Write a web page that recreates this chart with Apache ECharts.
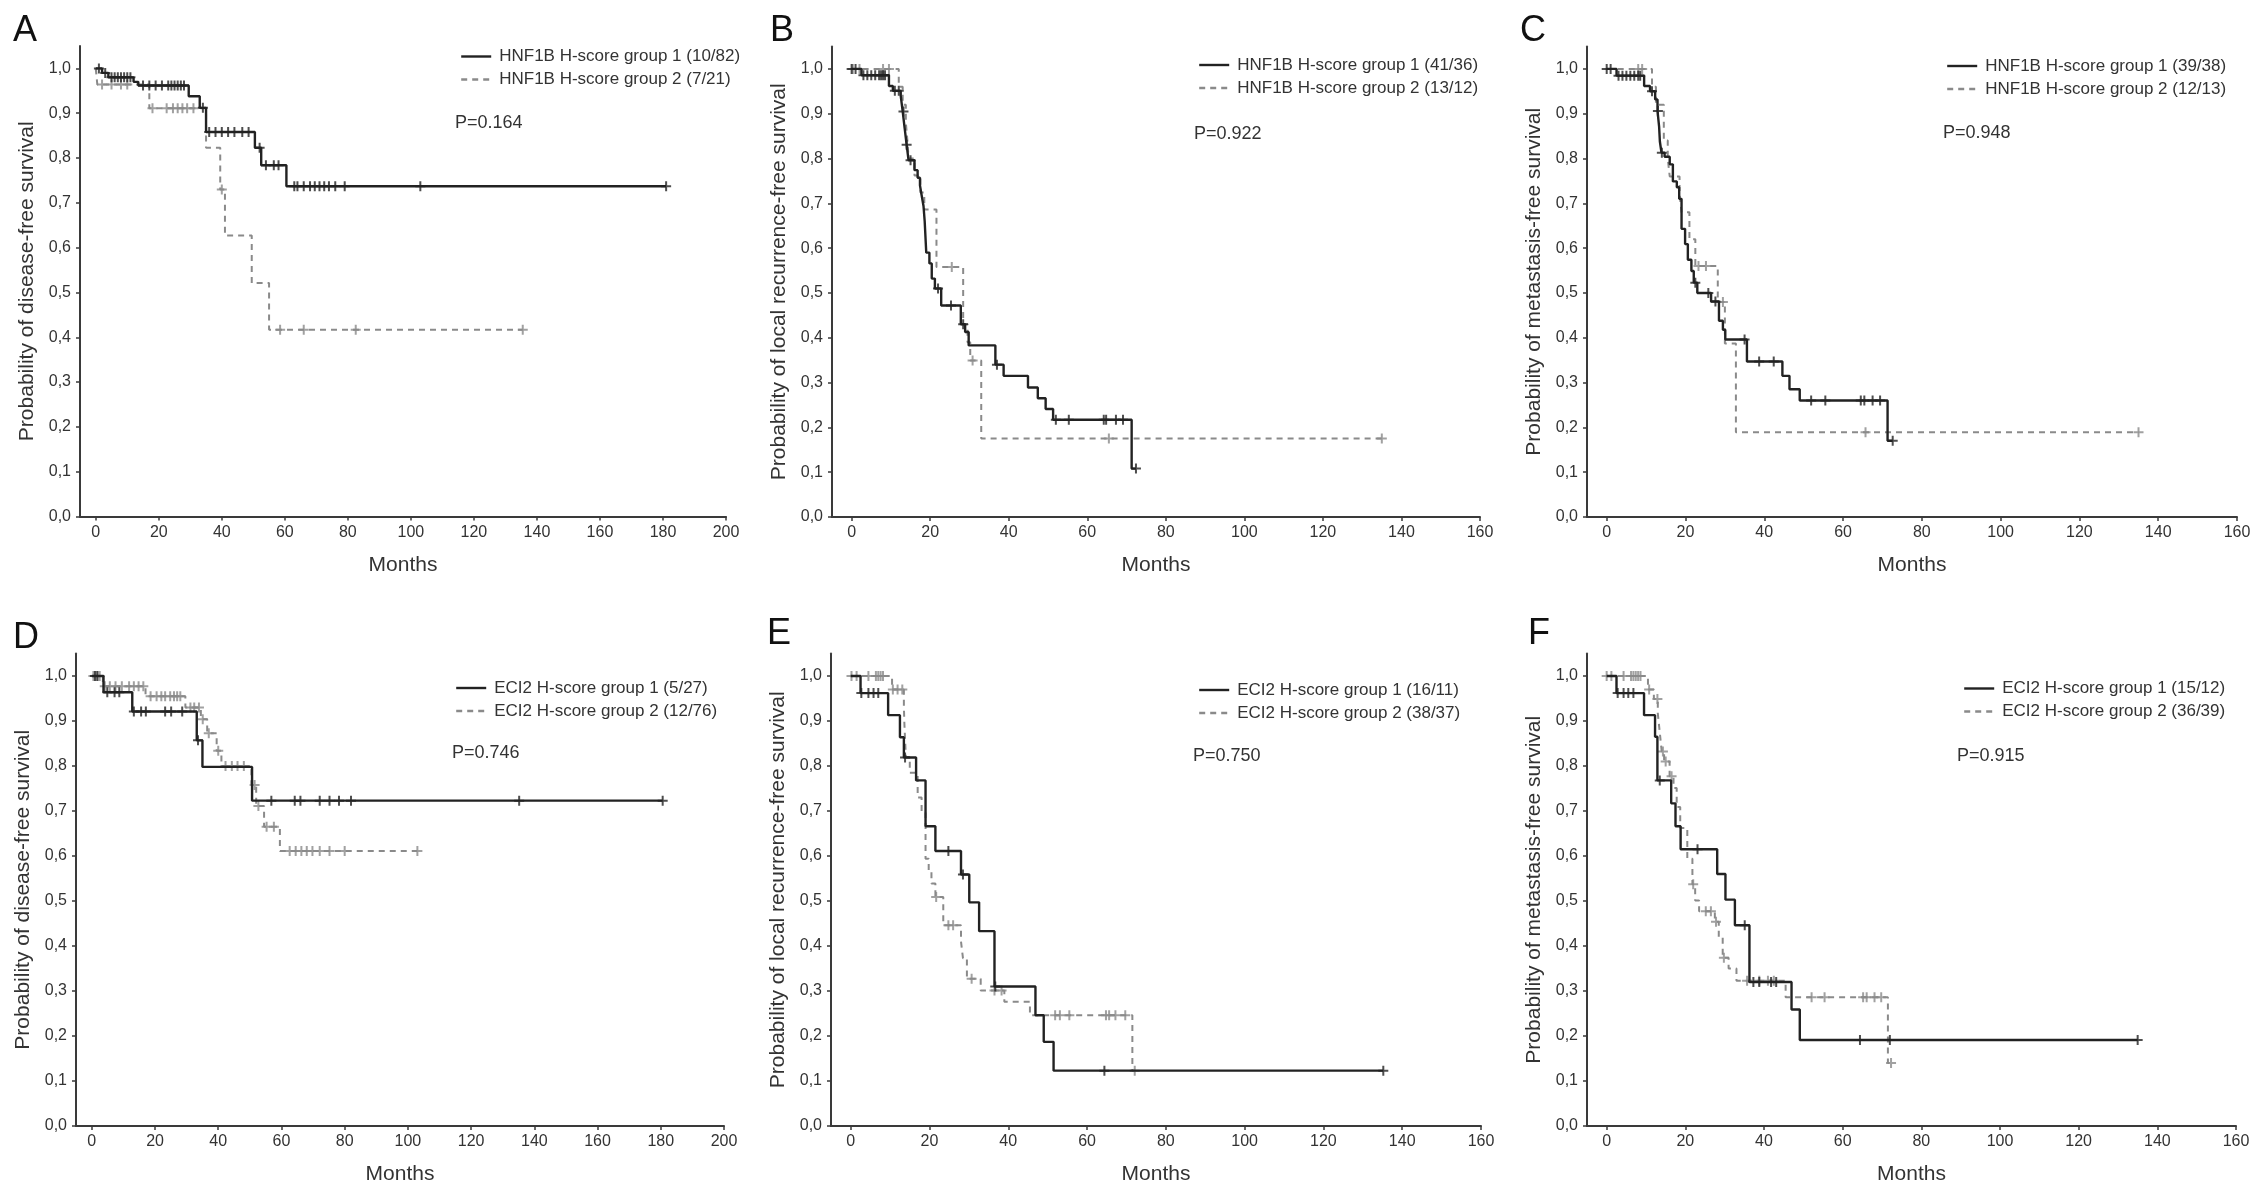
<!DOCTYPE html>
<html>
<head>
<meta charset="utf-8">
<script src="https://cdn.jsdelivr.net/npm/echarts@6.0.0/dist/echarts.min.js"></script>
<style>
html,body{margin:0;padding:0;background:#ffffff;}
#chart{width:2268px;height:1200px;}
</style>
</head>
<body>
<div id="chart"></div>
<script>
// ---------- tick labels ----------
const xTicks200 = [0, 20, 40, 60, 80, 100, 120, 140, 160, 180, 200];
const xTicks160 = [0, 20, 40, 60, 80, 100, 120, 140, 160];
const yTicks = [0, 0.1, 0.2, 0.3, 0.4, 0.5, 0.6, 0.7, 0.8, 0.9, 1.0];
const yTickLabels = ['0,0', '0,1', '0,2', '0,3', '0,4', '0,5', '0,6', '0,7', '0,8', '0,9', '1,0'];

// ---------- Panel A: HNF1B, disease-free survival ----------
const A_g1 = [[0,1],[2,0.99],[4,0.98],[12,0.97],[13.5,0.962],[29.5,0.938],[33,0.912],[35,0.858],[50.5,0.823],[52.5,0.784],[60.5,0.737]];
const A_g1_cens = [1,3,5,6,7,8,9,10,11,15,17,19,21,23,24,25,26,27,28,34,36,38,40,42,44,46.5,48.5,52,54,56.5,58,63,64,66,68,69.5,71,72.5,74,76,79,103,181];
const A_g2 = [[0,1],[0.5,0.964],[17,0.911],[35,0.823],[39.5,0.73],[41,0.627],[49.5,0.521],[55,0.417]];
const A_g2_cens = [2,5,8,10,18,22.5,24.5,26,27.5,29,31,40,58.5,66,82.5,135.5];

// ---------- Panel B: HNF1B, local recurrence-free survival ----------
const B_g1 = [[0,1],[2.5,0.986],[9.5,0.962],[10.5,0.951],[12.5,0.94],[13,0.905],[13.5,0.868],[14,0.831],[14.5,0.796],[16,0.774],[16.8,0.757],[17.4,0.74],[17.8,0.719],[18.3,0.694],[18.6,0.66],[19,0.59],[19.8,0.566],[20.4,0.532],[21.2,0.51],[22.8,0.472],[27.8,0.43],[28.9,0.413],[29.8,0.383],[36.6,0.34],[38.7,0.315],[44.9,0.289],[47.4,0.265],[49.4,0.241],[51.3,0.217],[71.3,0.108]];
const B_g1_cens = [0,1,3,4,5,6,7,7.5,8,8.5,11,12,13.2,14,15,22,25.3,28.4,37,52,55.3,64.2,64.8,67.3,69.1,72.4];
const B_g2 = [[0,1],[12,0.96],[13,0.92],[13.8,0.88],[14.2,0.84],[14.5,0.8],[16,0.762],[17.5,0.724],[18.5,0.686],[21.6,0.558],[28.4,0.43],[29.5,0.39],[30.2,0.349],[33,0.175]];
const B_g2_cens = [0.3,2,8,9.5,25.5,30.8,65.5,135];

// ---------- Panel C: HNF1B, metastasis-free survival ----------
const C_g1 = [[0,1],[2.5,0.985],[9.5,0.962],[11,0.95],[12.3,0.932],[12.9,0.906],[13.3,0.872],[13.5,0.838],[13.9,0.813],[14.7,0.804],[16,0.787],[16.8,0.749],[17.8,0.736],[18.4,0.71],[19,0.643],[19.9,0.609],[20.6,0.574],[21.5,0.549],[22.1,0.523],[23,0.5],[26.5,0.481],[28.5,0.438],[29.5,0.418],[30.1,0.396],[35.6,0.347],[44.6,0.315],[46.4,0.285],[49,0.26],[71.3,0.17]];
const C_g1_cens = [0,1,3,4,5,6,7,8,8.5,11.5,13,14,22.5,25.8,27.6,35,38.7,42.4,51.9,55.5,64.5,65.4,67.5,69.4,72.6];
const C_g2 = [[0,1],[11.5,0.96],[12.5,0.92],[14.5,0.84],[15.5,0.8],[16,0.76],[18.5,0.72],[19,0.68],[21,0.62],[22.5,0.56],[28.2,0.48],[30,0.387],[32.8,0.189]];
const C_g2_cens = [8,9,23.3,25.2,29.5,65.7,135];

// ---------- Panel D: ECI2, disease-free survival ----------
const D_g1 = [[0,1],[3.7,0.964],[12.8,0.921],[33.2,0.857],[35,0.798],[50.7,0.723]];
const D_g1_cens = [1,1.8,4.9,7.2,8.7,13.3,15.6,17.1,23.2,25.1,28.6,33.6,56.8,64.2,66,72.1,75.2,78.2,82,135.2,180.6];
const D_g2 = [[0,1],[3.5,0.977],[17,0.955],[29.6,0.93],[34.5,0.904],[36.5,0.873],[39.5,0.834],[41,0.8],[50.5,0.758],[52,0.711],[54.5,0.665],[59.5,0.611]];
const D_g2_cens = [0.5,1.5,2.5,4.1,5.7,7.5,9.5,11.8,13.3,14.8,16.3,18.6,20.5,22,23.2,24.8,26,27,28,31.2,32.4,33.9,35.1,37,40,42.3,44.3,46.1,48.1,51.5,52.7,55.3,57.6,62.6,64.5,66.3,68,69.8,72.1,75.2,80,103];

// ---------- Panel E: ECI2, local recurrence-free survival ----------
const E_g1 = [[0,1],[2.5,0.962],[9.5,0.913],[12.5,0.864],[13.5,0.819],[16.6,0.768],[19,0.666],[21.5,0.611],[28,0.559],[30.1,0.497],[32.6,0.433],[36.5,0.31],[46.9,0.246],[49,0.187],[51.5,0.123]];
const E_g1_cens = [2.7,4.5,5.8,7,13.8,24.8,28.5,36.7,64.4,135.2];
const E_g2 = [[0,1],[10.5,0.97],[13.5,0.934],[13.6,0.9],[13.8,0.86],[14,0.82],[15,0.785],[17,0.73],[18,0.696],[19,0.594],[19.8,0.569],[20.5,0.539],[21.5,0.509],[23.5,0.446],[28,0.41],[28.5,0.373],[29.5,0.327],[33,0.301],[39,0.276],[45.5,0.246],[71.5,0.123]];
const E_g2_cens = [0.2,1.5,4.5,6.4,7,7.6,8.2,10.7,11.9,13.1,21.7,24.8,26,30.7,36.5,38.3,51.9,53.1,55.5,64.8,65.6,67.2,69.7,72.1];

// ---------- Panel F: ECI2, metastasis-free survival ----------
const F_g1 = [[0,1],[2.5,0.962],[9.5,0.913],[12.3,0.865],[12.9,0.768],[16.4,0.717],[17.5,0.666],[18.8,0.615],[28.1,0.56],[30.2,0.503],[32.6,0.446],[36.3,0.32],[47,0.259],[49.1,0.191]];
const F_g1_cens = [2.8,4.3,5.5,6.8,13.5,23.1,35.1,37.3,38.8,41.8,43.1,64.4,72,135];
const F_g2 = [[0,1],[10.5,0.97],[12,0.949],[13,0.917],[13.5,0.875],[14,0.832],[14.6,0.81],[16,0.777],[17,0.751],[17.8,0.709],[18.7,0.662],[20.5,0.594],[21.8,0.537],[22.5,0.501],[23.5,0.477],[27.5,0.454],[28.5,0.42],[29.5,0.374],[31,0.35],[33,0.323],[45.5,0.286],[71.5,0.14]];
const F_g2_cens = [0,1.2,4.3,6.2,6.8,7.4,8,8.6,10.8,12.9,14.3,15,16.5,22,25.2,26.5,27.8,29.8,35.7,38.8,41,42.5,52.1,55.4,65.2,66.1,68.1,69.8,72.3];

// ---------- texts ----------
const panelLetters = ['A', 'B', 'C', 'D', 'E', 'F'];
const pValues = ['P=0.164', 'P=0.922', 'P=0.948', 'P=0.746', 'P=0.750', 'P=0.915'];
const yNames = ['Probability of disease-free survival', 'Probability of local recurrence-free survival', 'Probability of metastasis-free survival',
                'Probability of disease-free survival', 'Probability of local recurrence-free survival', 'Probability of metastasis-free survival'];
const g1Names = ['HNF1B H-score group 1 (10/82)', 'HNF1B H-score group 1 (41/36)', 'HNF1B H-score group 1 (39/38)',
                 'ECI2 H-score group 1 (5/27)', 'ECI2 H-score group 1 (16/11)', 'ECI2 H-score group 1 (15/12)'];
const g2Names = ['HNF1B H-score group 2 (7/21)', 'HNF1B H-score group 2 (13/12)', 'HNF1B H-score group 2 (12/13)',
                 'ECI2 H-score group 2 (12/76)', 'ECI2 H-score group 2 (38/37)', 'ECI2 H-score group 2 (36/39)'];

// ---------- layout (positions only) ----------
const panels = [
  {g1: A_g1, g1c: A_g1_cens, g2: A_g2, g2c: A_g2_cens, xMax: 200, xTicks: xTicks200,
   grid: {left: 80, top: 46, width: 646, height: 470.5}, legend: {left: 460, top: 48}, p: {left: 455, top: 114}, letter: {left: 13, top: 13}},
  {g1: B_g1, g1c: B_g1_cens, g2: B_g2, g2c: B_g2_cens, xMax: 160, xTicks: xTicks160,
   grid: {left: 832, top: 46.5, width: 648, height: 470.5}, legend: {left: 1198, top: 56.5}, p: {left: 1194, top: 125}, letter: {left: 770, top: 13}},
  {g1: C_g1, g1c: C_g1_cens, g2: C_g2, g2c: C_g2_cens, xMax: 160, xTicks: xTicks160,
   grid: {left: 1587, top: 46.5, width: 650, height: 470.5}, legend: {left: 1946, top: 57.5}, p: {left: 1943, top: 124}, letter: {left: 1520, top: 13}},
  {g1: D_g1, g1c: D_g1_cens, g2: D_g2, g2c: D_g2_cens, xMax: 200, xTicks: xTicks200,
   grid: {left: 76, top: 653.5, width: 648, height: 472.5}, legend: {left: 455, top: 679.5}, p: {left: 452, top: 744}, letter: {left: 13, top: 620}},
  {g1: E_g1, g1c: E_g1_cens, g2: E_g2, g2c: E_g2_cens, xMax: 160, xTicks: xTicks160,
   grid: {left: 831, top: 653.5, width: 650, height: 472.5}, legend: {left: 1198, top: 681.5}, p: {left: 1193, top: 747}, letter: {left: 767, top: 616}},
  {g1: F_g1, g1c: F_g1_cens, g2: F_g2, g2c: F_g2_cens, xMax: 160, xTicks: xTicks160,
   grid: {left: 1587, top: 653.5, width: 649, height: 472.5}, legend: {left: 1963, top: 680}, p: {left: 1957, top: 747}, letter: {left: 1528, top: 616}}
];

const FONT = '"Liberation Sans", Arial, sans-serif';
const AXIS_COLOR = '#3a3a3a';
const TEXT_COLOR = '#333333';
const SOLID_COLOR = '#222222';
const DASH_COLOR = '#8a8a8a';
const PLUS = 'path://M4,0 L6,0 L6,4 L10,4 L10,6 L6,6 L6,10 L4,10 L4,6 L0,6 L0,4 L4,4 Z';

function levelAt(steps, t) {
  let s = steps[0][1];
  for (const p of steps) { if (p[0] <= t) s = p[1]; }
  return s;
}
function lineData(steps, cens) {
  const pts = steps.map(p => [p[0], p[1]]);
  const lastT = Math.max(steps[steps.length - 1][0], cens.length ? cens[cens.length - 1] : 0);
  pts.push([lastT, steps[steps.length - 1][1]]);
  return pts;
}
function censData(steps, cens) {
  return cens.map(t => [t, levelAt(steps, t)]);
}

const option = {
  animation: false,
  backgroundColor: '#ffffff',
  textStyle: {fontFamily: FONT},
  grid: [], xAxis: [], yAxis: [], series: [], legend: [], title: []
};

panels.forEach((pn, i) => {
  option.grid.push(Object.assign({containLabel: false}, pn.grid));
  option.xAxis.push({
    type: 'value', gridIndex: i, min: -5, max: pn.xMax,
    name: 'Months', nameLocation: 'middle', nameGap: 38,
    nameTextStyle: {fontSize: 21, color: TEXT_COLOR, fontFamily: FONT},
    axisLine: {show: true, onZero: false, lineStyle: {color: AXIS_COLOR, width: 2}},
    axisTick: {show: true, customValues: pn.xTicks, length: 4, lineStyle: {color: AXIS_COLOR, width: 1.5}},
    axisLabel: {show: true, customValues: pn.xTicks, fontSize: 16, color: TEXT_COLOR, margin: 8, fontFamily: FONT},
    splitLine: {show: false}
  });
  option.yAxis.push({
    type: 'value', gridIndex: i, min: 0, max: 1.05,
    name: yNames[i], nameLocation: 'middle', nameGap: 42, nameRotate: 90,
    nameTextStyle: {fontSize: 21, color: TEXT_COLOR, fontFamily: FONT},
    axisLine: {show: true, onZero: false, lineStyle: {color: AXIS_COLOR, width: 2}},
    axisTick: {show: true, customValues: yTicks, length: 4, lineStyle: {color: AXIS_COLOR, width: 1.5}},
    axisLabel: {show: true, customValues: yTicks, fontSize: 16, color: TEXT_COLOR, margin: 9, fontFamily: FONT,
      formatter: v => yTickLabels[Math.round(v * 10)]},
    splitLine: {show: false}
  });
  // group 2 (dashed, gray)
  option.series.push({
    type: 'line', name: g2Names[i], xAxisIndex: i, yAxisIndex: i, step: 'end', symbol: 'none',
    data: lineData(pn.g2, pn.g2c), z: 2,
    lineStyle: {color: DASH_COLOR, width: 2, type: [6, 5]}, itemStyle: {color: DASH_COLOR}
  });
  option.series.push({
    type: 'scatter', name: g2Names[i] + ' censored', xAxisIndex: i, yAxisIndex: i, symbol: PLUS, symbolSize: 10,
    data: censData(pn.g2, pn.g2c), z: 3, itemStyle: {color: DASH_COLOR}, silent: true
  });
  // group 1 (solid, dark)
  option.series.push({
    type: 'line', name: g1Names[i], xAxisIndex: i, yAxisIndex: i, step: 'end', symbol: 'none',
    data: lineData(pn.g1, pn.g1c), z: 4,
    lineStyle: {color: SOLID_COLOR, width: 2.4, type: 'solid'}, itemStyle: {color: SOLID_COLOR}
  });
  option.series.push({
    type: 'scatter', name: g1Names[i] + ' censored', xAxisIndex: i, yAxisIndex: i, symbol: PLUS, symbolSize: 10,
    data: censData(pn.g1, pn.g1c), z: 5, itemStyle: {color: SOLID_COLOR}, silent: true
  });
  option.legend.push({
    left: pn.legend.left, top: pn.legend.top, orient: 'vertical', padding: 0,
    itemWidth: 30, itemHeight: 14, itemGap: 6, selectedMode: false,
    itemStyle: {opacity: 0, borderWidth: 0},
    lineStyle: {width: 2.4},
    textStyle: {fontSize: 17, color: TEXT_COLOR, fontFamily: FONT, padding: [0, 0, 0, 3]},
    data: [g1Names[i], g2Names[i]]
  });
  option.title.push({
    text: panelLetters[i], left: pn.letter.left, top: pn.letter.top, padding: 0,
    textStyle: {fontSize: 36, fontWeight: 'normal', color: '#111111', fontFamily: FONT}
  });
  option.title.push({
    text: pValues[i], left: pn.p.left, top: pn.p.top, padding: 0,
    textStyle: {fontSize: 18, fontWeight: 'normal', color: TEXT_COLOR, fontFamily: FONT}
  });
});

const chart = echarts.init(document.getElementById('chart'), null, {renderer: 'canvas'});
chart.setOption(option);
</script>
</body>
</html>
